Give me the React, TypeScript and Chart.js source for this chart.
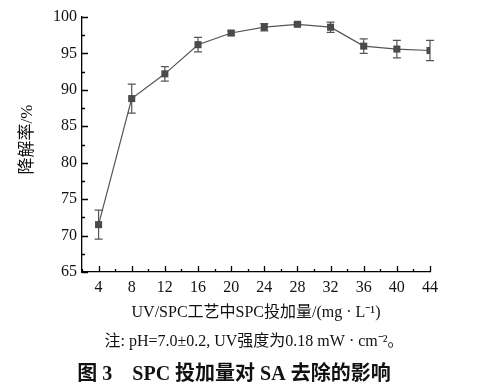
import React, { useEffect, useRef } from "react";
import { Chart, registerables } from "chart.js";

Chart.register(...registerables);

const doses = [4, 8, 12, 16, 20, 24, 28, 32, 36, 40, 44];
const removal = [71.5, 88.8, 92.2, 96.2, 97.8, 98.6, 99.0, 98.6, 96.0, 95.6, 95.4];
const errors = [2.0, 2.0, 1.0, 1.0, 0.3, 0.5, 0.2, 0.7, 1.0, 1.2, 1.4];
const xMajorTicks = [4, 8, 12, 16, 20, 24, 28, 32, 36, 40, 44];
const xMinorTicks = [2, 6, 10, 14, 18, 22, 26, 30, 34, 38, 42];
const yMajorTicks = [65, 70, 75, 80, 85, 90, 95, 100];
const yMinorTicks = [67.5, 72.5, 77.5, 82.5, 87.5, 92.5, 97.5];

const xTitle = "UV/SPC工艺中SPC投加量/(mg · L⁻¹)";
const yTitle = "降解率/%";
const note = "注: pH=7.0±0.2, UV强度为0.18 mW · cm⁻²。";
const caption = "图 3　SPC 投加量对 SA 去除的影响";

const FONT = '"Liberation Serif", "Times New Roman", "Noto Sans CJK SC", serif';

export default function App() {
  const ref = useRef<HTMLCanvasElement>(null);

  useEffect(() => {
    const errPlugin = {
      id: "errbars",
      beforeDatasetsDraw(chart: any) {
        const ctx = chart.ctx;
        const xs = chart.scales.x;
        const ys = chart.scales.y;
        ctx.save();
        ctx.strokeStyle = "#555";
        ctx.lineWidth = 1.2;
        doses.forEach((d, i) => {
          const px = xs.getPixelForValue(d);
          const top = ys.getPixelForValue(removal[i] + errors[i]);
          const bot = ys.getPixelForValue(removal[i] - errors[i]);
          ctx.beginPath();
          ctx.moveTo(px, top);
          ctx.lineTo(px, bot);
          ctx.moveTo(px - 4, top);
          ctx.lineTo(px + 4, top);
          ctx.moveTo(px - 4, bot);
          ctx.lineTo(px + 4, bot);
          ctx.stroke();
        });
        ctx.restore();
      },
      afterDraw(chart: any) {
        const ctx = chart.ctx;
        const xs = chart.scales.x;
        const ys = chart.scales.y;
        const ca = chart.chartArea;
        ctx.save();
        ctx.strokeStyle = "#000";
        ctx.lineWidth = 1.3;
        ctx.beginPath();
        xMajorTicks.forEach((v) => {
          const p = Math.round(xs.getPixelForValue(v)) + 0.5;
          ctx.moveTo(p, ca.bottom);
          ctx.lineTo(p, ca.bottom - 6);
        });
        xMinorTicks.forEach((v) => {
          const p = Math.round(xs.getPixelForValue(v)) + 0.5;
          ctx.moveTo(p, ca.bottom);
          ctx.lineTo(p, ca.bottom - 3);
        });
        yMajorTicks.forEach((v) => {
          const p = Math.round(ys.getPixelForValue(v)) + 0.5;
          ctx.moveTo(ca.left, p);
          ctx.lineTo(ca.left + 6, p);
        });
        yMinorTicks.forEach((v) => {
          const p = Math.round(ys.getPixelForValue(v)) + 0.5;
          ctx.moveTo(ca.left, p);
          ctx.lineTo(ca.left + 3, p);
        });
        ctx.stroke();

        ctx.fillStyle = "#111";
        ctx.textAlign = "center";
        ctx.textBaseline = "middle";
        ctx.font = "16px " + FONT;
        ctx.fillText(xTitle, (ca.left + ca.right) / 2, 313);
        ctx.save();
        ctx.translate(28, (ca.top + ca.bottom) / 2 - 5);
        ctx.rotate(-Math.PI / 2);
        ctx.font = "17px " + FONT;
        ctx.fillText(yTitle, 0, 0);
        ctx.restore();
        ctx.font = "16px " + FONT;
        ctx.fillText(note, 254, 342);
        ctx.font = "bold 20px " + FONT;
        ctx.fillText(caption, 234, 375);
        ctx.restore();
      },
    };

    const chart = new Chart(ref.current!, {
      type: "line",
      data: {
        datasets: [
          {
            data: doses.map((d, i) => ({ x: d, y: removal[i] })),
            borderColor: "#555",
            borderWidth: 1.2,
            backgroundColor: "#4a4a4a",
            pointStyle: "rect",
            pointRadius: 5,
            pointBorderWidth: 0,
            pointBorderColor: "#4a4a4a",
            pointBackgroundColor: "#4a4a4a",
            tension: 0,
          },
        ],
      },
      options: {
        animation: false,
        responsive: false,
        layout: { padding: { top: 17, right: 51, left: 0, bottom: 0 } },
        plugins: { legend: { display: false }, tooltip: { enabled: false } },
        scales: {
          x: {
            type: "linear",
            min: 2,
            max: 44,
            afterBuildTicks: (s: any) => {
              s.ticks = xMajorTicks.map((v) => ({ value: v }));
            },
            afterFit: (s: any) => {
              s.height = 391 - 272;
            },
            grid: { display: false, drawTicks: false },
            border: { display: true, color: "#000", width: 1.3 },
            ticks: {
              padding: 6,
              color: "#111",
              font: { family: FONT, size: 16 },
              maxRotation: 0,
              autoSkip: false,
            },
          },
          y: {
            type: "linear",
            min: 65,
            max: 100,
            afterBuildTicks: (s: any) => {
              s.ticks = yMajorTicks.map((v) => ({ value: v }));
            },
            afterFit: (s: any) => {
              s.width = 82;
            },
            grid: { display: false, drawTicks: false },
            border: { display: true, color: "#000", width: 1.3 },
            ticks: {
              padding: 5,
              color: "#111",
              font: { family: FONT, size: 16 },
            },
          },
        },
      },
      plugins: [errPlugin],
    } as any);
    return () => chart.destroy();
  }, []);

  return (
    <div style={{ position: "absolute", left: 0, top: 0, width: 481, height: 391, background: "#fff" }}>
      <canvas ref={ref} width={481} height={391} style={{ width: 481, height: 391 }} />
    </div>
  );
}
